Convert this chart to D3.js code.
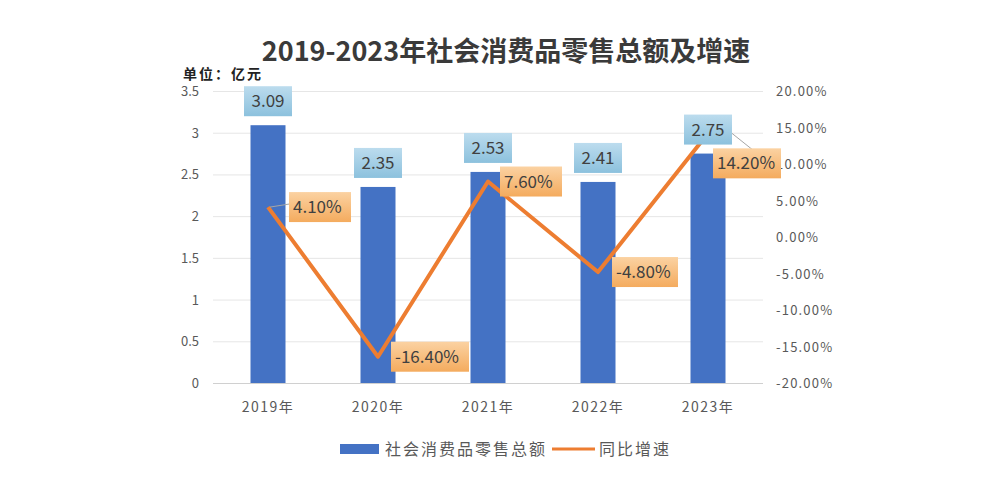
<!DOCTYPE html>
<html>
<head>
<meta charset="utf-8">
<script src="https://cdn.jsdelivr.net/npm/d3@7"></script>
<style>
  body { margin: 0; background: #fff; }
  text { font-family: "Noto Sans CJK SC", "Noto Sans", sans-serif; }
</style>
</head>
<body>
<div id="chart"></div>
<script>
    var years = ["2019年", "2020年", "2021年", "2022年", "2023年"];
    var sales = [3.09, 2.35, 2.53, 2.41, 2.75];
    var growth = [4.1, -16.4, 7.6, -4.8, 14.2];
    var leftTicks = [0, 0.5, 1, 1.5, 2, 2.5, 3, 3.5];
    var rightTicks = [-20, -15, -10, -5, 0, 5, 10, 15, 20];

    var width = 984, height = 482;
    var svg = d3.select('#chart').append('svg')
                .attr('width', width)
                .attr('height', height);

    var defs = svg.append('defs');
    var gBlue = defs.append('linearGradient').attr('id', 'gblue').attr('x1', 0).attr('y1', 0).attr('x2', 0).attr('y2', 1);
    gBlue.append('stop').attr('offset', '0%').attr('stop-color', '#bcdcee');
    gBlue.append('stop').attr('offset', '100%').attr('stop-color', '#8cc1dd');
    var gOr = defs.append('linearGradient').attr('id', 'gorange').attr('x1', 0).attr('y1', 0).attr('x2', 0).attr('y2', 1);
    gOr.append('stop').attr('offset', '0%').attr('stop-color', '#fbd2a2');
    gOr.append('stop').attr('offset', '100%').attr('stop-color', '#f4ab5e');

    var x = d3.scaleBand().domain(years).range([213, 763]);
    var yL = d3.scaleLinear().domain([0, 3.5]).range([383, 91]);
    var yR = d3.scaleLinear().domain([-20, 20]).range([383, 91]);
    var cx = i => x(years[i]) + x.bandwidth() / 2;
    var pct = d => d.toFixed(2) + '%';

    // title
    svg.append('text')
       .attr('x', 506).attr('y', 61)
       .attr('text-anchor', 'middle')
       .attr('font-size', 27).attr('font-weight', 'bold')
       .attr('fill', '#3a3a3a')
       .text('2019-2023年社会消费品零售总额及增速');
    svg.append('text')
       .attr('x', 183).attr('y', 79)
       .attr('font-size', 14).attr('font-weight', 'bold')
       .attr('letter-spacing', 2)
       .attr('fill', '#222')
       .text('单位：亿元');

    // grid
    svg.append('g').selectAll('line')
       .data(leftTicks).enter().append('line')
       .attr('x1', 213).attr('x2', 763)
       .attr('y1', d => yL(d) + 0.5).attr('y2', d => yL(d) + 0.5)
       .attr('stroke', d => d === 0 ? '#d0d0d0' : '#e6e6e6')
       .attr('stroke-width', 1);

    // left axis labels
    svg.append('g').selectAll('text')
       .data(leftTicks).enter().append('text')
       .attr('x', 199).attr('y', d => yL(d) + 5)
       .attr('text-anchor', 'end')
       .attr('font-size', 13).attr('fill', '#595959')
       .text(d => d);

    // right axis labels
    svg.append('g').selectAll('text')
       .data(rightTicks).enter().append('text')
       .attr('x', 776).attr('y', d => yR(d) + 5)
       .attr('font-size', 13).attr('fill', '#595959')
       .attr('letter-spacing', 1.2)
       .text(pct);

    // x labels
    svg.append('g').selectAll('text')
       .data(years).enter().append('text')
       .attr('x', (d, i) => cx(i)).attr('y', 412)
       .attr('text-anchor', 'middle')
       .attr('font-size', 14).attr('fill', '#595959')
       .attr('letter-spacing', 1.5)
       .text(d => d);

    // bars
    var bw = 35;
    svg.append('g').selectAll('rect')
       .data(sales).enter().append('rect')
       .attr('x', (d, i) => cx(i) - bw / 2)
       .attr('y', d => yL(d))
       .attr('width', bw)
       .attr('height', d => yL(0) - yL(d))
       .attr('fill', '#4472c4');

    // line
    var line = d3.line()
                 .x((d, i) => cx(i))
                 .y(d => yR(d));
    svg.append('path')
       .datum(growth)
       .attr('d', line)
       .attr('fill', 'none')
       .attr('stroke', '#ed7d31')
       .attr('stroke-width', 4)
       .attr('stroke-linejoin', 'round');

    // leader lines
    svg.append('line')
       .attr('x1', cx(0) + 2).attr('y1', yR(growth[0]))
       .attr('x2', cx(0) + 21).attr('y2', yR(growth[0]) - 3)
       .attr('stroke', '#a6a6a6').attr('stroke-width', 1);
    svg.append('line')
       .attr('x1', cx(4) + 23).attr('y1', yL(sales[4]) - 21)
       .attr('x2', cx(4) + 44).attr('y2', yR(growth[4]) + 16)
       .attr('stroke', '#a6a6a6').attr('stroke-width', 1);

    // bar labels
    var bl = svg.append('g').selectAll('g')
       .data(sales).enter().append('g')
       .attr('transform', (d, i) => 'translate(' + cx(i) + ',' + (yL(d) - 24) + ')');
    bl.append('rect')
      .attr('x', -24).attr('y', -15).attr('width', 48).attr('height', 30)
      .attr('fill', 'url(#gblue)');
    bl.append('text')
      .attr('text-anchor', 'middle').attr('y', 6)
      .attr('font-size', 17).attr('fill', '#404040')
      .text(d => d.toFixed(2));

    // growth labels, placed right of the point
    var gdx = [21, 13, 12, 14, 5];
    var gdy = [0, 0, 0, 0, 30];
    var gw = [62, 78, 62, 66, 68];
    var gl = svg.append('g').selectAll('g')
       .data(growth).enter().append('g')
       .attr('transform', (d, i) => 'translate(' + (cx(i) + gdx[i]) + ',' + (yR(d) + gdy[i]) + ')');
    gl.append('rect')
      .attr('x', 0).attr('y', -15)
      .attr('width', (d, i) => gw[i])
      .attr('height', 30)
      .attr('fill', 'url(#gorange)');
    gl.append('text')
      .attr('x', 4).attr('y', 6)
      .attr('font-size', 17).attr('fill', '#404040')
      .text(pct);

    // legend
    var lg = svg.append('g');
    lg.append('rect').attr('x', 340).attr('y', 444).attr('width', 39).attr('height', 10).attr('fill', '#4472c4');
    lg.append('text').attr('x', 385).attr('y', 455).attr('font-size', 16).attr('letter-spacing', 2).attr('fill', '#595959').text('社会消费品零售总额');
    lg.append('line').attr('x1', 552).attr('x2', 595).attr('y1', 449).attr('y2', 449).attr('stroke', '#ed7d31').attr('stroke-width', 3);
    lg.append('text').attr('x', 599).attr('y', 455).attr('font-size', 16).attr('letter-spacing', 2).attr('fill', '#595959').text('同比增速');
</script>
</body>
</html>
